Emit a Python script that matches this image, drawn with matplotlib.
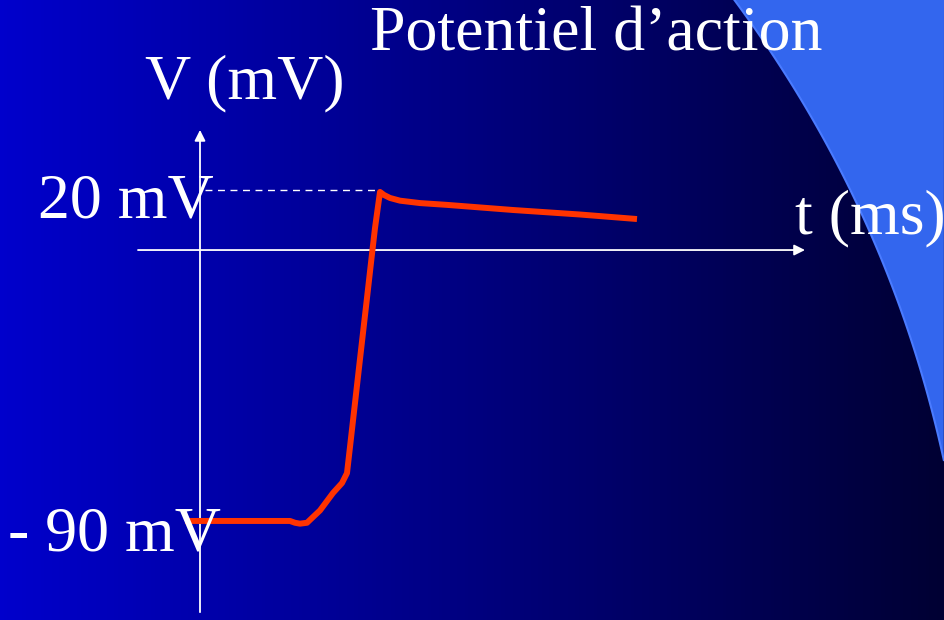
import numpy as np
import matplotlib.pyplot as plt
from matplotlib.colors import LinearSegmentedColormap

# action potential trace (t in ms, V in mV)
t_ms = [-0.15, 0.9, 0.95, 1.0, 1.07, 1.13, 1.2, 1.33, 1.42, 1.47, 1.50, 1.55,
        1.60, 1.67, 1.72, 1.75, 1.80, 1.84, 1.90, 2.00, 2.20, 2.47, 3.13, 3.80, 4.37]
v_mv = [-90, -90, -90.6, -90.9, -90.6, -88.7, -86.5, -80.7, -77.4, -74.1, -65.4, -50.8,
        -36.2, -15.9, -1.3, 7.3, 19.3, 18.3, 17.3, 16.4, 15.6, 15.0, 13.3, 11.8, 10.3]

peak_v = 20
rest_v = -90
title = "Potentiel d\u2019action"
ylabel = "V (mV)"
xlabel = "t (ms)"

fig = plt.figure(figsize=(9.44, 6.2), dpi=100)
ax = fig.add_axes([0, 0, 1, 1])
xmin, xmax = -2.0, 7.44
ymin, ymax = -122.9, 83.06
ax.set_xlim(xmin, xmax)
ax.set_ylim(ymin, ymax)
ax.axis('off')

# slide background: horizontal blue gradient
cmap = LinearSegmentedColormap.from_list('bg', ['#0000cc', '#000033'])
grad = np.linspace(0, 1, 256).reshape(1, -1)
ax.imshow(grad, cmap=cmap, extent=[xmin, xmax, ymin, ymax], aspect='auto', zorder=0)

# light blue curved shape on the right (smooth edge through a few picked points)
edge_x = [735, 773, 807, 840, 873, 907, 923, 944]
edge_y = [0, 57, 110, 167, 240, 327, 380, 460]
coef = np.polyfit(edge_y, edge_x, 3)
yy = np.linspace(0, 460, 80)
xx = np.polyval(coef, yy)
sx = list(xx / 944) + [1.0]
sy = list(1 - yy / 620) + [1.0]
ax.fill(sx, sy, color='#3366ee', transform=ax.transAxes, zorder=1, lw=0)
ax.plot(xx / 944, 1 - yy / 620, color='#4a7bff', lw=1.5, transform=ax.transAxes, zorder=1)

# axes with arrows
arrow = dict(arrowstyle='-|>', color='white', lw=1.3, mutation_scale=16, shrinkA=0, shrinkB=0)
ax.annotate('', xy=(0, 39.9), xytext=(0, -120.3), arrowprops=arrow, zorder=3)
ax.annotate('', xy=(6.05, 0), xytext=(-0.62, 0), arrowprops=arrow, zorder=3)

# dashed level at peak
ax.plot([0.05, 1.80], [peak_v, peak_v], color='white', lw=1, ls=(0, (5, 4)), zorder=3)

# the trace
ax.plot(t_ms, v_mv, color='#ff3300', lw=4.3, solid_capstyle='butt',
        solid_joinstyle='round', zorder=4)

font = dict(family='Liberation Serif', color='white', fontsize=46, zorder=5)
ax.text(1.70, 83.06 - 50 / 3.01, title, ha='left', va='baseline', **font)
ax.text(-0.55, 83.06 - 98 / 3.01, ylabel, ha='left', va='baseline', **font)
ax.text(-1.62, 83.06 - 217 / 3.01, f"{peak_v} mV", ha='left', va='baseline', **font)
ax.text(-1.92, 83.06 - 550 / 3.01, f"- {abs(rest_v)} mV", ha='left', va='baseline', **font)
ax.text(5.95, 83.06 - 233 / 3.01, xlabel, ha='left', va='baseline', **font)

fig.savefig('out.png', dpi=100)
